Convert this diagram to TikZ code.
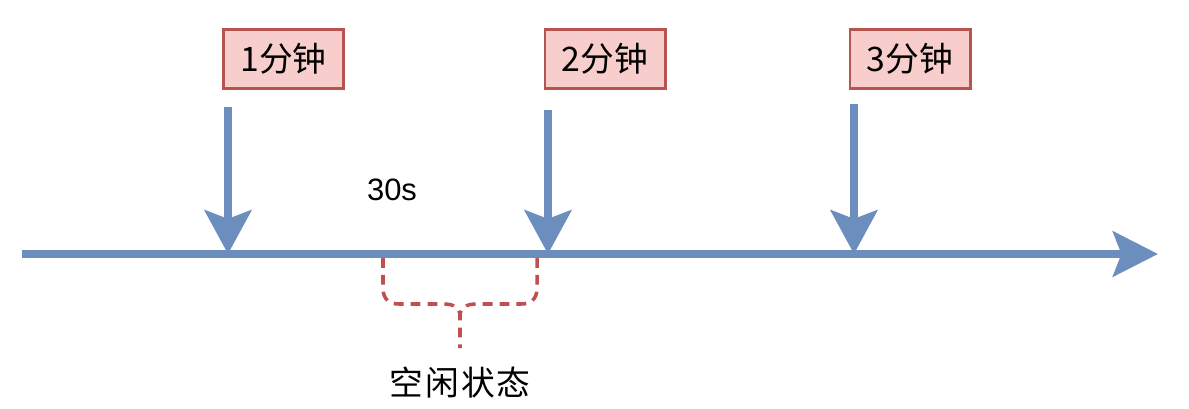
\documentclass[tikz,border=0pt]{standalone}
\usepackage{fontspec}
\usepackage{xcolor}
\usetikzlibrary{arrows.meta,positioning}
\setsansfont{Liberation Sans}
\newfontfamily\cjk{Noto Sans CJK SC}
\definecolor{tlBlue}{RGB}{108,142,191}
\definecolor{tlPink}{RGB}{248,206,204}
\definecolor{tlRed}{RGB}{184,84,80}
\definecolor{tlDash}{RGB}{192,80,77}
\tikzset{
  minutebox/.style={draw=tlRed, fill=tlPink, line width=2.1pt, minimum width=3.0cm,
    minimum height=1.475cm, inner sep=0pt, font=\cjk\fontsize{24}{26}\selectfont},
  droparrow/.style={tlBlue, line width=6.3pt, -{Stealth[length=31pt,width=33pt,inset=6pt]}},
  idlebrace/.style={tlDash, line width=2.5pt, dash pattern=on 7pt off 5pt},
}

\begin{document}
\begin{tikzpicture}[x=0.025cm,y=-0.025cm]
\useasboundingbox (0,0) rectangle (1189,408);
% time axis
\coordinate (axL) at (22,254);
\coordinate (axR) at (1158,254);
\draw[tlBlue, line width=5.7pt, -{Stealth[length=32pt,width=32pt,inset=6pt]}] (axL) -- (axR);
% minute marks
\node[minutebox] (m1) at (283.5,59) {1分钟};
\node[minutebox] (m2) at (605,59) {2分钟};
\node[minutebox] (m3) at (910,59) {3分钟};
\coordinate (s1) at (228,107);
\coordinate (s2) at (548,110);
\coordinate (s3) at (854,104);
\coordinate (t1) at (228,254);
\coordinate (t2) at (548,254);
\coordinate (t3) at (854,254);
\draw[droparrow] (s1) -- (t1);
\draw[droparrow] (s2) -- (t2);
\draw[droparrow] (s3) -- (t3);
\node[font=\sffamily\fontsize{22}{24}\selectfont] (gap) at (392,190) {30s};
% idle interval
\coordinate (bL) at (383,258);
\coordinate (bR) at (537,258);
\coordinate (bM) at (460,316);
\coordinate (bE) at (460,348);
\draw[idlebrace] (bL) -- (383,288) .. controls (383,300) and (390,304) .. (399,304)
  -- (444,304) .. controls (454,304) and (460,308) .. (bM);
\draw[idlebrace] (bR) -- (537,288) .. controls (537,300) and (530,304) .. (521,304)
  -- (476,304) .. controls (466,304) and (460,308) .. (bM) -- (bE);
\node[font=\cjk\fontsize{24}{26}\selectfont] (idle) at (460,383)
  {空\hspace{1.5pt}闲\hspace{1.5pt}状\hspace{1.5pt}态};
\end{tikzpicture}
\end{document}
